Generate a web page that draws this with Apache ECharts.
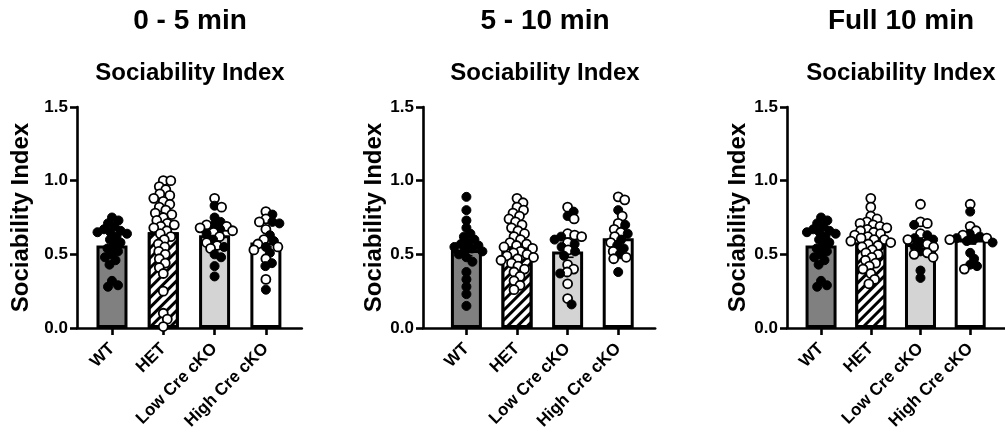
<!DOCTYPE html>
<html>
<head>
<meta charset="utf-8">
<script src="https://cdn.jsdelivr.net/npm/echarts@6/dist/echarts.min.js"></script>
<style>
  html, body { margin: 0; padding: 0; background: #fff; }
  #chart { width: 1005px; height: 441px; }
</style>
</head>
<body>
<div id="chart"></div>
<script>
// ---- data ----
const groups = ['WT', 'HET', 'Low Cre cKO', 'High Cre cKO'];
const panelTitles = ['0 - 5 min', '5 - 10 min', 'Full 10 min'];
const subTitle = 'Sociability Index';
const yAxisName = 'Sociability Index';
const yTicks = [0, 0.5, 1.0, 1.5];

// 0 - 5 min
const mean05 = [0.56, 0.65, 0.63, 0.58];
const sem05 = [0.03, 0.04, 0.03, 0.03];
const wtFilled05 = [0.75, 0.73, 0.71, 0.69, 0.67, 0.66, 0.65, 0.65, 0.64, 0.62, 0.60, 0.58, 0.56, 0.54, 0.52, 0.50, 0.48, 0.46, 0.43, 0.32, 0.29, 0.28];
const hetOpen05 = [1.00, 1.00, 0.96, 0.94, 0.91, 0.90, 0.88, 0.86, 0.84, 0.82, 0.80, 0.78, 0.77, 0.75, 0.73, 0.71, 0.70, 0.69, 0.68, 0.66, 0.64, 0.62, 0.60, 0.57, 0.55, 0.52, 0.50, 0.47, 0.44, 0.41, 0.37, 0.25, 0.10, 0.06, 0.01];
const lowFilled05 = [0.83, 0.75, 0.72, 0.70, 0.67, 0.64, 0.60, 0.55, 0.50, 0.48, 0.42, 0.35];
const lowOpen05 = [0.88, 0.82, 0.70, 0.69, 0.68, 0.66, 0.65, 0.62, 0.58, 0.56, 0.54];
const highFilled05 = [0.77, 0.72, 0.71, 0.63, 0.59, 0.55, 0.51, 0.44, 0.42, 0.26];
const highOpen05 = [0.79, 0.74, 0.72, 0.67, 0.60, 0.57, 0.55, 0.53, 0.47, 0.33];

// 5 - 10 min
const mean510 = [0.53, 0.55, 0.52, 0.61];
const sem510 = [0.04, 0.03, 0.04, 0.03];
const wtFilled510 = [0.89, 0.80, 0.73, 0.68, 0.64, 0.62, 0.60, 0.58, 0.57, 0.56, 0.55, 0.54, 0.53, 0.52, 0.50, 0.48, 0.45, 0.38, 0.33, 0.28, 0.23, 0.15];
const hetOpen510 = [0.88, 0.85, 0.82, 0.80, 0.78, 0.76, 0.74, 0.72, 0.70, 0.68, 0.66, 0.64, 0.62, 0.60, 0.58, 0.57, 0.56, 0.55, 0.54, 0.52, 0.51, 0.50, 0.49, 0.48, 0.47, 0.46, 0.44, 0.42, 0.40, 0.38, 0.35, 0.32, 0.29, 0.26];
const lowFilled510 = [0.79, 0.76, 0.62, 0.60, 0.57, 0.55, 0.52, 0.49, 0.37, 0.16];
const lowOpen510 = [0.82, 0.74, 0.64, 0.63, 0.62, 0.58, 0.53, 0.43, 0.40, 0.38, 0.30, 0.20];
const highFilled510 = [0.80, 0.70, 0.64, 0.60, 0.56, 0.54, 0.50, 0.38];
const highOpen510 = [0.89, 0.87, 0.76, 0.71, 0.67, 0.65, 0.62, 0.58, 0.52, 0.48, 0.47];

// Full 10 min
const mean10 = [0.56, 0.58, 0.57, 0.60];
const sem10 = [0.03, 0.02, 0.03, 0.03];
const wtFilled10 = [0.75, 0.73, 0.71, 0.69, 0.67, 0.66, 0.65, 0.65, 0.64, 0.62, 0.60, 0.58, 0.56, 0.54, 0.52, 0.50, 0.48, 0.46, 0.43, 0.32, 0.29, 0.28];
const hetOpen10 = [0.88, 0.82, 0.76, 0.74, 0.72, 0.71, 0.70, 0.69, 0.68, 0.67, 0.66, 0.65, 0.64, 0.63, 0.62, 0.61, 0.60, 0.60, 0.59, 0.58, 0.57, 0.56, 0.55, 0.53, 0.51, 0.50, 0.48, 0.46, 0.44, 0.42, 0.40, 0.37, 0.33, 0.30];
const lowFilled10 = [0.70, 0.63, 0.61, 0.60, 0.58, 0.55, 0.52, 0.39, 0.34];
const lowOpen10 = [0.84, 0.72, 0.71, 0.64, 0.60, 0.57, 0.55, 0.51, 0.50, 0.48];
const highFilled10 = [0.79, 0.64, 0.62, 0.61, 0.60, 0.59, 0.58, 0.51, 0.47, 0.43, 0.42];
const highOpen10 = [0.84, 0.69, 0.66, 0.63, 0.61, 0.60, 0.40];

// ---- assemble panels ----
const panels = [
  { title: panelTitles[0], mean: mean05, sem: sem05,
    filled: [wtFilled05, [], lowFilled05, highFilled05],
    open: [[], hetOpen05, lowOpen05, highOpen05] },
  { title: panelTitles[1], mean: mean510, sem: sem510,
    filled: [wtFilled510, [], lowFilled510, highFilled510],
    open: [[], hetOpen510, lowOpen510, highOpen510] },
  { title: panelTitles[2], mean: mean10, sem: sem10,
    filled: [wtFilled10, [], lowFilled10, highFilled10],
    open: [[], hetOpen10, lowOpen10, highOpen10] }
];

// ---- layout ----
const FONT = '"Liberation Sans", Arial, Helvetica, sans-serif';
const gridTop = 107, gridHeight = 221, yMax = 1.5;
const layout = [
  { left: 77,  step: 51.3, xMin: -0.682, xMax: 3.70, center: 190, nameGap: 44 },
  { left: 423, step: 50.6, xMin: -0.858, xMax: 3.73, center: 545, nameGap: 33 },
  { left: 787, step: 51.1, xMin: -0.685, xMax: 3.70, center: 901, nameGap: 37 }
];
const SYMBOL = 9;

const barFill = [
  { color: '#808080' },
  { color: '#ffffff', decal: {
      symbol: 'rect', symbolSize: 1, color: '#000', backgroundColor: '#fff',
      dashArrayX: [[1, 0]], dashArrayY: [3, 3.2], rotation: -Math.PI / 4 } },
  { color: '#d4d4d4' },
  { color: '#ffffff' }
];

// spread the points of one group sideways so they do not pile up (beeswarm)
function swarm(points, pxPerX, pxPerY) {
  const sorted = points.slice().sort((a, b) => b.v - a.v);
  const placed = [];
  const minDist = 7.1;
  sorted.forEach(p => {
    const py = p.v * pxPerY;
    let chosen = 0;
    for (let off = 0; off <= 30; off += 0.5) {
      const cands = off === 0 ? [0] : [off, -off];
      let ok = null;
      for (const c of cands) {
        if (placed.every(q => Math.hypot(q.px - c, q.py - py) >= minDist)) { ok = c; break; }
      }
      if (ok !== null) { chosen = ok; break; }
    }
    placed.push({ px: chosen, py: py, v: p.v, filled: p.filled });
  });
  return placed.map(q => ({ dx: q.px / pxPerX, v: q.v, filled: q.filled }));
}

const grid = [], xAxis = [], yAxis = [], series = [], graphic = [];

panels.forEach((pn, i) => {
  const L = layout[i];
  const width = (L.xMax - L.xMin) * L.step;
  grid.push({ left: L.left, top: gridTop, width: width, height: gridHeight, containLabel: false });

  xAxis.push({
    type: 'value', gridIndex: i, min: L.xMin, max: L.xMax,
    splitLine: { show: false },
    axisLine: { show: true, onZero: false, lineStyle: { color: '#000', width: 2.6 } },
    axisTick: { show: true, customValues: [0, 1, 2, 3], length: 7, lineStyle: { color: '#000', width: 2.6 } },
    axisLabel: {
      customValues: [0, 1, 2, 3], formatter: v => groups[Math.round(v)] || '',
      rotate: 45, margin: 18, color: '#000', fontFamily: FONT, fontWeight: 'bold', fontSize: 17
    }
  });

  yAxis.push({
    type: 'value', gridIndex: i, min: 0, max: yMax, interval: 0.5,
    splitLine: { show: false },
    axisLine: { show: true, onZero: false, lineStyle: { color: '#000', width: 2.6 } },
    axisTick: { show: true, length: 7, lineStyle: { color: '#000', width: 2.6 } },
    axisLabel: { formatter: v => v.toFixed(1), color: '#000', fontFamily: FONT, fontWeight: 'bold', fontSize: 17, margin: 9 },
    name: yAxisName, nameLocation: 'middle', nameRotate: 90, nameGap: L.nameGap,
    nameTextStyle: { color: '#000', fontFamily: FONT, fontWeight: 'bold', fontSize: 24 }
  });

  // bars (group means)
  series.push({
    type: 'bar', xAxisIndex: i, yAxisIndex: i, barWidth: 31, z: 2,
    data: pn.mean.map((m, k) => ({
      value: [k, m],
      itemStyle: Object.assign({ borderColor: '#000', borderWidth: 3 }, barFill[k])
    })),
    silent: true
  });

  // error bars (SEM)
  series.push({
    type: 'custom', xAxisIndex: i, yAxisIndex: i, z: 3, silent: true,
    data: pn.mean.map((m, k) => [k, m, pn.sem[k]]),
    renderItem: (params, api) => {
      const x = api.value(0), m = api.value(1), s = api.value(2);
      const hi = api.coord([x, m + s]), lo = api.coord([x, m - s]);
      const cap = 6;
      const st = { stroke: '#000', lineWidth: 1.6 };
      return { type: 'group', children: [
        { type: 'line', shape: { x1: hi[0], y1: hi[1], x2: lo[0], y2: lo[1] }, style: st },
        { type: 'line', shape: { x1: hi[0] - cap, y1: hi[1], x2: hi[0] + cap, y2: hi[1] }, style: st },
        { type: 'line', shape: { x1: lo[0] - cap, y1: lo[1], x2: lo[0] + cap, y2: lo[1] }, style: st }
      ] };
    }
  });

  // individual animals
  const pts = [];
  for (let k = 0; k < 4; k++) {
    const grp = pn.filled[k].map(v => ({ v, filled: true }))
      .concat(pn.open[k].map(v => ({ v, filled: false })));
    swarm(grp, L.step, gridHeight / yMax).forEach(q => {
      pts.push({
        value: [k + q.dx, q.v],
        itemStyle: q.filled
          ? { color: '#000', borderColor: '#000', borderWidth: 1, opacity: 1 }
          : { color: '#fff', borderColor: '#000', borderWidth: 1.8, opacity: 1 }
      });
    });
  }
  series.push({
    type: 'scatter', xAxisIndex: i, yAxisIndex: i, z: 4, silent: true,
    symbol: 'circle', symbolSize: SYMBOL, itemStyle: { opacity: 1 }, data: pts
  });

  graphic.push({
    type: 'text', x: L.center, y: 21,
    style: { text: pn.title, fill: '#000', font: 'bold 28px ' + FONT, textAlign: 'center', textVerticalAlign: 'middle' }
  });
  graphic.push({
    type: 'text', x: L.center, y: 73,
    style: { text: subTitle, fill: '#000', font: 'bold 24px ' + FONT, textAlign: 'center', textVerticalAlign: 'middle' }
  });
});

const chart = echarts.init(document.getElementById('chart'), null, { renderer: 'canvas' });
chart.setOption({
  animation: false,
  backgroundColor: '#fff',
  grid, xAxis, yAxis, series, graphic
});
</script>
</body>
</html>
